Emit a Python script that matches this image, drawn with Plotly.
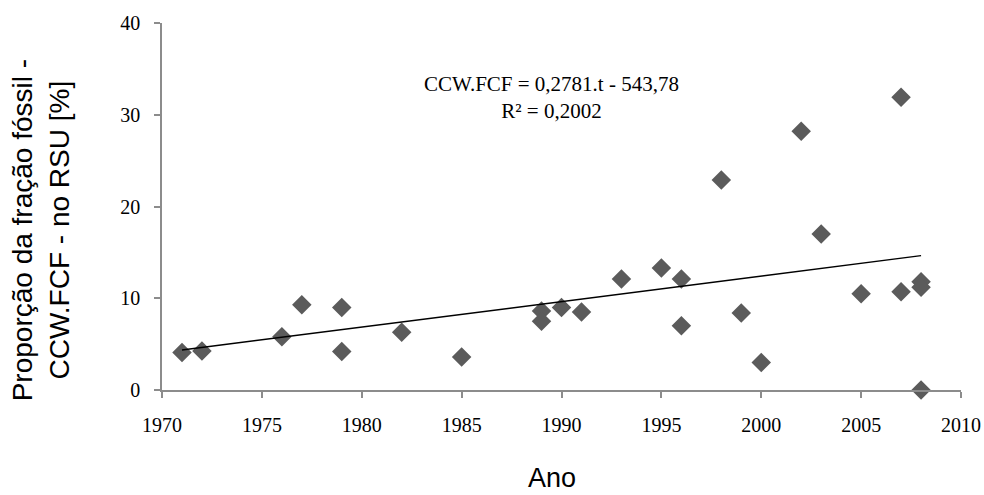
import plotly.graph_objects as go

# Observations: year and fossil fraction share (%)
anos = [1971, 1972, 1976, 1977, 1979, 1979, 1982, 1985, 1989, 1989,
        1990, 1991, 1993, 1995, 1996, 1996, 1998, 1999, 2000, 2002,
        2003, 2005, 2007, 2007, 2008, 2008, 2008]
ccw_fcf = [4.1, 4.25, 5.8, 9.3, 9.0, 4.2, 6.3, 3.6, 8.6, 7.5,
           9.0, 8.5, 12.1, 13.3, 12.1, 7.0, 22.9, 8.4, 3.0, 28.2,
           17.0, 10.5, 10.7, 31.9, 11.8, 11.2, 0.0]

# Linear trend coefficients
slope = 0.2781
intercept = -543.78
r2 = 0.2002

x_ticks = [1970, 1975, 1980, 1985, 1990, 1995, 2000, 2005, 2010]
y_ticks = [0, 10, 20, 30, 40]

trend_x = [min(anos), max(anos)]
trend_y = [slope * t + intercept for t in trend_x]

fig = go.Figure()
fig.add_trace(go.Scatter(
    x=anos, y=ccw_fcf, mode="markers",
    marker=dict(symbol="diamond", size=15, color="#5b5b5b", line=dict(width=0)),
    showlegend=False, cliponaxis=False,
))
fig.add_trace(go.Scatter(
    x=trend_x, y=trend_y, mode="lines",
    line=dict(color="black", width=1.5),
    showlegend=False,
))

axis_common = dict(
    showgrid=False, zeroline=False, showline=True, automargin=False,
    linecolor="#8c8c8c", linewidth=1.5,
    ticks="outside", ticklen=6, tickcolor="#8c8c8c", tickwidth=1.5,
    tickfont=dict(family="Liberation Serif", size=20, color="black"),
)

fig.update_xaxes(range=[1970, 2010], tickvals=x_ticks,
                 ticktext=[str(v) for v in x_ticks],
                 ticklabelstandoff=10, **axis_common)
fig.update_yaxes(range=[0, 40], tickvals=y_ticks,
                 ticktext=[str(v) for v in y_ticks],
                 ticklabelstandoff=10, **axis_common)

eq_text = f"CCW.FCF = {str(slope).replace('.', ',')}.t - {str(abs(intercept)).replace('.', ',')}"
r2_text = f"R² = {str(r2).replace('.', ',')}"

fig.add_annotation(
    x=0.487, y=0.796, xref="paper", yref="paper",
    text=eq_text + "<br>" + r2_text, showarrow=False,
    font=dict(family="Liberation Serif", size=21, color="black"),
    xanchor="center", yanchor="middle", align="center",
)
fig.add_annotation(
    x=0.4877, y=-105 / 367, xref="paper", yref="paper",
    text="Ano", showarrow=False,
    font=dict(family="Liberation Sans", size=27, color="black"),
    xanchor="center", yanchor="bottom",
)
fig.add_annotation(
    x=-0.151, y=0.436, xref="paper", yref="paper",
    text="Proporção da fração fóssil -<br>CCW.FCF - no RSU [%]",
    textangle=-90, showarrow=False,
    font=dict(family="Liberation Sans", size=28, color="black"),
    xanchor="center", yanchor="middle", align="center",
)

fig.update_layout(
    width=984, height=495,
    margin=dict(l=162, r=23, t=23, b=105),
    plot_bgcolor="white", paper_bgcolor="white",
)

fig.write_html("out.html")
